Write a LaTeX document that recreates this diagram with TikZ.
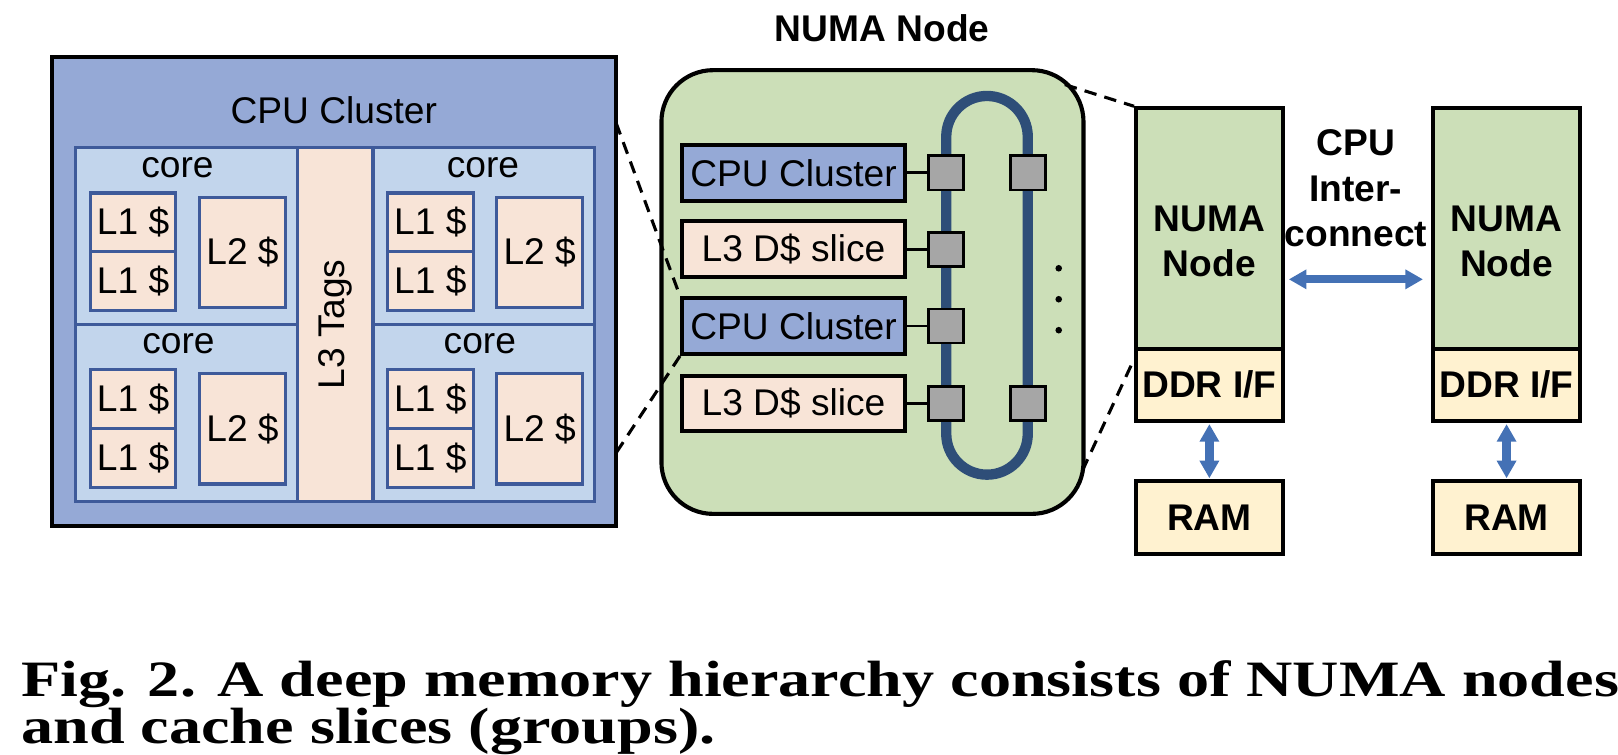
\documentclass[tikz,border=0pt]{standalone}
\usepackage{fontspec}
\setmainfont{Liberation Sans}
\newfontfamily\capfont{Liberation Serif}
\usetikzlibrary{arrows.meta}

\definecolor{cpublue}{HTML}{95A9D6}
\definecolor{coreblue}{HTML}{C2D5EC}
\definecolor{coreedge}{HTML}{3E5A9A}
\definecolor{peach}{HTML}{F8E4D7}
\definecolor{numagreen}{HTML}{CCDFB8}
\definecolor{ddryellow}{HTML}{FFF2D0}
\definecolor{portgray}{HTML}{A6A6A6}
\definecolor{ringblue}{HTML}{2E4E78}
\definecolor{linkblue}{HTML}{4471B5}

\tikzset{every picture/.style={line width=0.75pt}}
\tikzset{
	txt/.style={font=\fontsize{18}{22}\selectfont, inner sep=0pt},
	boldtxt/.style={font=\fontsize{18}{22}\selectfont\bfseries, inner sep=0pt, align=center},
	captxt/.style={anchor=base west, inner sep=0pt, font=\capfont\bfseries\fontsize{26}{30}\selectfont},
	cluster/.style={draw=black, fill=cpublue, line width=2pt, inner sep=0pt},
	corecell/.style={draw=coreedge, fill=coreblue, line width=1.5pt, minimum width=107.5pt, minimum height=85.75pt, inner sep=0pt},
	cachebox/.style={draw=coreedge, fill=peach, line width=1.5pt, inner sep=0pt, font=\fontsize{18}{22}\selectfont},
	lone/.style={cachebox, minimum width=41.5pt, minimum height=28.5pt},
	ltwo/.style={cachebox, minimum width=41.5pt, minimum height=53.5pt},
	rowbox/.style={draw=black, line width=2pt, minimum width=108pt, minimum height=27pt, inner sep=0pt, font=\fontsize{18}{22}\selectfont},
	port/.style={draw=black, fill=portgray, line width=1.3pt, minimum width=17pt, minimum height=16.5pt, inner sep=0pt},
	tick/.style={line width=1.3pt},
	zoomline/.style={dash pattern=on 6pt off 4pt, line width=1.5pt},
	memblock/.style={draw=black, line width=2pt, minimum width=71pt, inner sep=0pt, font=\fontsize{18}{22}\selectfont\bfseries},
	link/.style={draw=linkblue, line width=4pt, {Triangle[width=9pt,length=8.5pt]}-{Triangle[width=9pt,length=8.5pt]}},
}

\begin{document}
\begin{tikzpicture}[x=0.5pt, y=-0.5pt]
	\useasboundingbox (0,0) rectangle (1568,731);

	% CPU cluster
	\node[cluster, minimum width=273.5pt, minimum height=227.5pt] (clus) at (323.5,282.5) {};
	\node[txt, anchor=base] (clustitle) at (323.5,119.5) {CPU Cluster};
	\node[corecell] (corea) at (181,228.5) {};
	\node[corecell] (coreb) at (469,228.5) {};
	\node[corecell] (corec) at (181,400) {};
	\node[corecell] (cored) at (469,400) {};
	\node[cachebox, minimum width=171.5pt, minimum height=36.5pt, rotate=90] (l3tags) at (325,314.5) {L3 Tags};

	\node[txt, anchor=base] (corealab) at (172,172) {core};
	\node[lone] (corea1) at (129,215.5) {L1 \$};
	\node[lone] (corea2) at (129,272.5) {L1 \$};
	\node[ltwo] (corea3) at (235,244.5) {L2 \$};

	\node[txt, anchor=base] (coreblab) at (468,172) {core};
	\node[lone] (coreb1) at (417,215.5) {L1 \$};
	\node[lone] (coreb2) at (417,272.5) {L1 \$};
	\node[ltwo] (coreb3) at (523,244.5) {L2 \$};

	\node[txt, anchor=base] (coreclab) at (173,343) {core};
	\node[lone] (corec1) at (129,386.5) {L1 \$};
	\node[lone] (corec2) at (129,443.5) {L1 \$};
	\node[ltwo] (corec3) at (235,415.5) {L2 \$};

	\node[txt, anchor=base] (coredlab) at (465,343) {core};
	\node[lone] (cored1) at (417,386.5) {L1 \$};
	\node[lone] (cored2) at (417,443.5) {L1 \$};
	\node[ltwo] (cored3) at (523,415.5) {L2 \$};

	% NUMA node with ring
	\node[boldtxt, anchor=base] (numatitle) at (855,40.4) {NUMA Node};
	\node[draw=black, fill=numagreen, line width=2pt, rounded corners=25pt, minimum width=204.5pt, minimum height=215pt] (numa) at (845.5,283) {};
	\draw[ringblue, line width=5pt, rounded corners=19.75pt] (917,93) rectangle (996,460);

	\node[rowbox, fill=cpublue] (clu1) at (769,167.5) {CPU Cluster};
	\node[rowbox, fill=peach] (sl1) at (769,241.5) {L3 D\$ slice};
	\node[rowbox, fill=cpublue] (clu2) at (769,316) {CPU Cluster};
	\node[rowbox, fill=peach] (sl2) at (769,391) {L3 D\$ slice};

	\node[port] (s1) at (917,167.5) {};
	\node[port] (s2) at (917,241.5) {};
	\node[port] (s3) at (917,316) {};
	\node[port] (s4) at (917,391) {};
	\node[port] (r1) at (996,167.5) {};
	\node[port] (r4) at (996,391) {};
	\draw[tick] (clu1) -- (s1);
	\draw[tick] (sl1) -- (s2);
	\draw[tick] (clu2) -- (s3);
	\draw[tick] (sl2) -- (s4);

	\fill (1026,260) circle (1.6pt);
	\fill (1026,290) circle (1.6pt);
	\fill (1026,320) circle (1.6pt);

	% zoom lines
	\coordinate (zt) at (597,119);
	\coordinate (zb) at (597,439);
	\coordinate (zr1) at (1032,82);
	\coordinate (zr2) at (1049,456);
	\draw[zoomline] (zt) -- (clu2.north west);
	\draw[zoomline] (clu2.south west) -- (zb);

	% two NUMA nodes
	\node[memblock, fill=numagreen, minimum height=116.5pt] (numa1) at (1172,221.5) {};
	\node[memblock, fill=ddryellow, minimum height=35pt] (ddr1) at (1172,373) {DDR I/F};
	\node[memblock, fill=ddryellow, minimum height=35pt] (ram1) at (1172,501.5) {RAM};
	\node[boldtxt] (numa1txt) at (1172,234) {NUMA\\Node};

	\node[memblock, fill=numagreen, minimum height=116.5pt] (numa2) at (1460,221.5) {};
	\node[memblock, fill=ddryellow, minimum height=35pt] (ddr2) at (1460,373) {DDR I/F};
	\node[memblock, fill=ddryellow, minimum height=35pt] (ram2) at (1460,501.5) {RAM};
	\node[boldtxt] (numa2txt) at (1460,234) {NUMA\\Node};

	\draw[zoomline] (zr1) -- (numa1.north west);
	\draw[zoomline] (zr2) -- ([yshift=-6pt]ddr1.north west);

	\node[boldtxt] (ictxt) at (1314,182.5) {CPU\\Inter-\\connect};
	\draw[link, shorten <=2pt, shorten >=4pt] ([yshift=-24.6pt]numa1.east) -- ([yshift=-24.6pt]numa2.west);
	\draw[link, shorten <=0.5pt, shorten >=0.5pt] (ddr1) -- (ram1);
	\draw[link, shorten <=0.5pt, shorten >=0.5pt] (ddr2) -- (ram2);

	% caption
	\node[captxt] (cap1) at (20,675) {\scalebox{1.196}[0.95]{Fig. 2. A deep memory hierarchy consists of NUMA nodes}};
	\node[captxt] (cap2) at (20,721) {\scalebox{1.196}[0.95]{and cache slices (groups).}};
\end{tikzpicture}
\end{document}
